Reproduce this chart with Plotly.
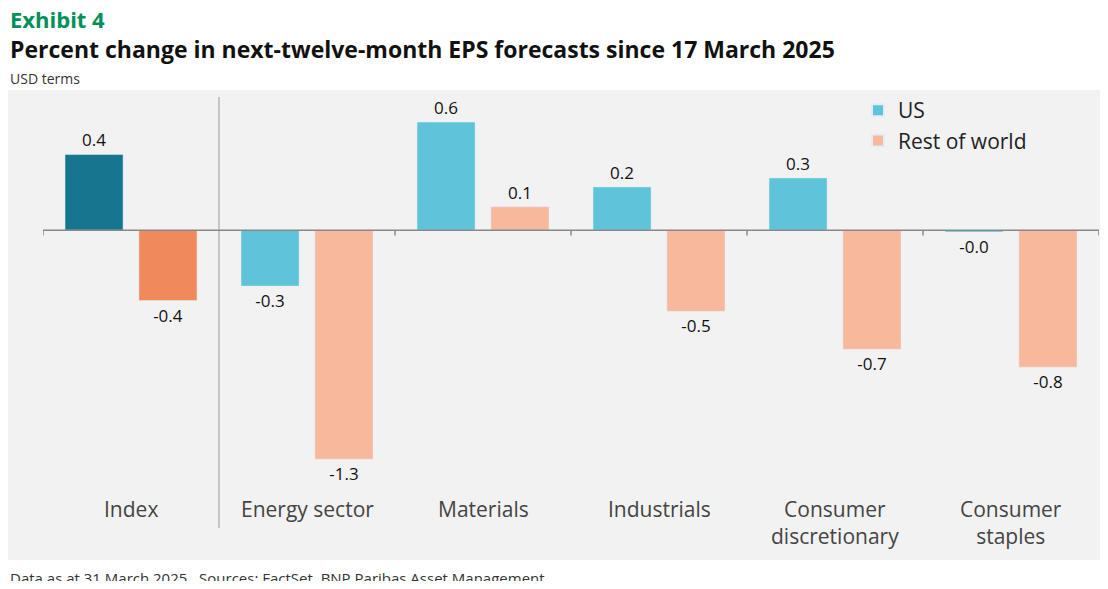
import plotly.graph_objects as go

categories = ["Index", "Energy sector", "Materials", "Industrials", "Consumer<br>discretionary", "Consumer<br>staples"]
us = [0.42, -0.31, 0.6, 0.24, 0.29, -0.01]
row = [-0.39, -1.27, 0.13, -0.45, -0.66, -0.76]
us_labels = ["0.4", "-0.3", "0.6", "0.2", "0.3", "-0.0"]
row_labels = ["-0.4", "-1.3", "0.1", "-0.5", "-0.7", "-0.8"]

x = list(range(len(categories)))
us_col = ["#17768f"] + ["#5fc4da"] * 5
row_col = ["#f08a5d"] + ["#f8b89b"] * 5
F = "Open Sans"
L = 35  # left margin px
PW, PH = 1056, 384

fig = go.Figure()
fig.add_bar(x=x, y=us, width=0.33, offset=-0.375, marker_color=us_col, showlegend=False,
            text=us_labels, textposition="outside", textfont=dict(size=17, color="#111"), cliponaxis=False)
fig.add_bar(x=x, y=row, width=0.33, offset=0.045, marker_color=row_col, showlegend=False,
            text=row_labels, textposition="outside", textfont=dict(size=17, color="#111"), cliponaxis=False)
fig.add_bar(x=[None], y=[None], marker_color="#5fc4da", name="US")
fig.add_bar(x=[None], y=[None], marker_color="#f8b89b", name="Rest of world")

shapes = [dict(type="rect", xref="paper", yref="paper", x0=-L/PW, x1=1+1/PW,
               y0=-81/PH, y1=1+5/PH, fillcolor="#f2f2f2", line_width=0, layer="below"),
          dict(type="line", xref="x", yref="paper", x0=0.5, x1=0.5, y0=-49/PH, y1=382/PH,
               line=dict(color="#999", width=1)),
          dict(type="line", xref="x", yref="y", x0=-0.5, x1=5.5, y0=0, y1=0,
               line=dict(color="#888", width=1.5))]
shapes += [dict(type="line", xref="x", yref="y", x0=b, x1=b, y0=0, y1=-0.03,
                line=dict(color="#888", width=1.5)) for b in [-0.5, 1.5, 2.5, 3.5, 4.5, 5.5]]

annotations = []
for i, c in enumerate(categories):
    annotations.append(dict(x=i, y=-14/PH, xref="x", yref="paper", text=c, showarrow=False,
                            yanchor="top", font=dict(size=21, color="#444", family=F)))
annotations += [
    dict(x=-L/PW, y=1+(95-2)/PH, xref="paper", yref="paper", text="<b>Exhibit 4</b>", showarrow=False,
         xanchor="left", yanchor="top", font=dict(size=22, color="#00915a", family=F)),
    dict(x=-L/PW, y=1+(95-31)/PH, xref="paper", yref="paper",
         text="<b>Percent change in next-twelve-month EPS forecasts since 17 March 2025</b>", showarrow=False,
         xanchor="left", yanchor="top", font=dict(size=23, color="#111", family=F)),
    dict(x=-L/PW, y=1+(95-67)/PH, xref="paper", yref="paper", text="USD terms", showarrow=False,
         xanchor="left", yanchor="top", font=dict(size=14, color="#333", family=F)),
    dict(x=-L/PW, y=-(566-479)/PH, xref="paper", yref="paper",
         text="Data as at 31 March 2025.  Sources: FactSet, BNP Paribas Asset Management.", showarrow=False,
         xanchor="left", yanchor="top", font=dict(size=15, color="#333", family=F)),
]

fig.update_layout(
    width=1092, height=573, margin=dict(l=L, r=1, t=87, b=102),
    paper_bgcolor="white", plot_bgcolor="rgba(0,0,0,0)",
    font=dict(family=F), barmode="overlay",
    xaxis=dict(range=[-0.5, 5.5], showticklabels=False, showgrid=False, zeroline=False),
    yaxis=dict(range=[-1.38, 0.75], visible=False),
    legend=dict(x=(858-43)/PW, y=1+5/PH, xanchor="left", yanchor="top", bgcolor="rgba(0,0,0,0)",
                font=dict(size=21, color="#222", family=F), itemsizing="constant"),
    shapes=shapes, annotations=annotations,
)
fig.write_html("out.html")
